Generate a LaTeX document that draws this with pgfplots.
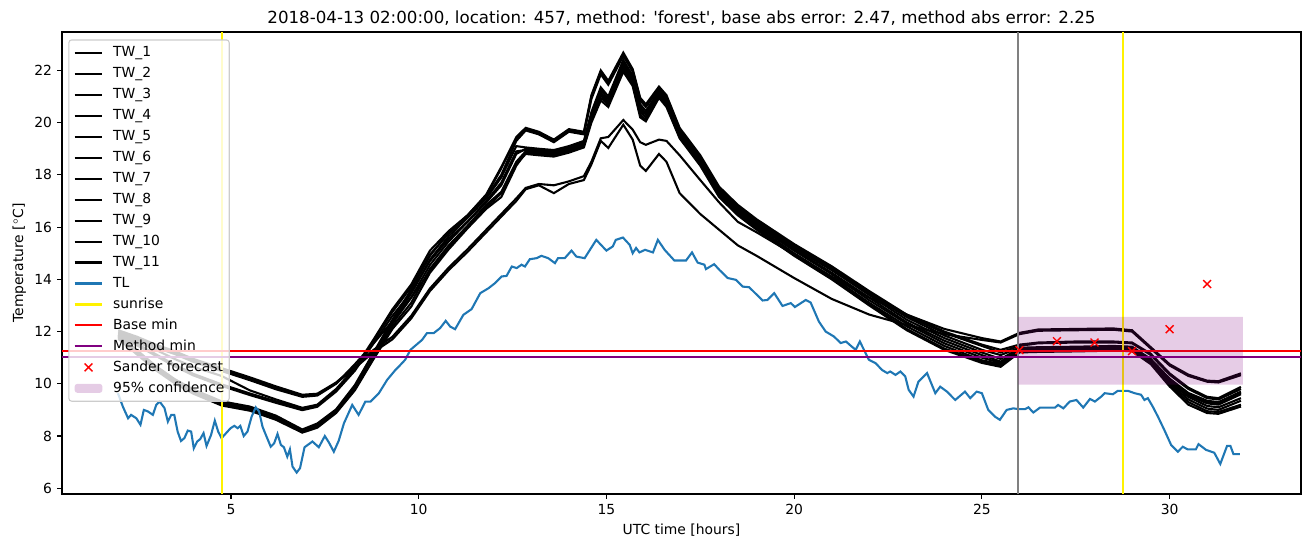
\documentclass[border=0pt]{standalone}
\usepackage{pgfplots}
\pgfplotsset{compat=1.18}
\usepackage{pgfplotstable}
\usepackage{fontspec}
\setmainfont{DejaVu Sans}

\definecolor{tabblue}{HTML}{1F77B4}
\definecolor{mplpurple}{HTML}{800080}
\definecolor{mplgray}{HTML}{808080}
\definecolor{legframe}{HTML}{CCCCCC}

\pgfplotsset{
    boxlegend/.style={legend image code/.code={\fill[##1] (0pt,-3.25pt) rectangle (20pt,3.25pt);}},
}

% wall temperatures, one column per sensor
\pgfplotstableread{
x     P     Q     c1    c2    c3    c4    c5    c6    c7    c8    c9
2     12.05 12.0  11.95 11.88 11.93 11.84 11.8  11.87 11.76 11.72 11.94
2.5   11.8  11.75 11.6  11.28 11.53 11.24 11.2  11.47 11.16 11.12 11.69
3     11.5  11.45 11.3  10.68 11.13 10.64 10.6  11.07 10.56 10.52 11.39
3.5   11.25 11.2  10.95 10.18 10.73 10.14 10.1  10.67 10.06 10.02 11.14
4     10.95 10.9  10.65 9.78  10.38 9.74  9.7   10.32 9.66  9.62  10.84
4.75  10.6  10.55 10.3  9.33  9.98  9.29  9.25  9.92  9.21  9.17  10.49
5.5   10.25 10.2  9.75  9.13  9.63  9.09  9.05  9.57  9.01  8.97  10.14
6.2   9.9   9.85  9.4   8.78  9.33  8.74  8.7   9.27  8.66  8.62  9.79
6.9   9.58  9.55  9.08  8.25  9.05  8.21  8.17  8.99  8.15  8.13  9.5
7.3   9.62  9.58  9.2   8.48  9.18  8.44  8.4   9.12  8.36  8.32  9.55
7.8   10.05 10.02 9.8   9.02  9.75  8.98  8.95  9.7   8.92  8.88  10.0
8.3   10.65 10.6  10.6  9.95  10.55 9.9   9.85  10.5  9.8   9.75  10.75
8.8   11.3  11.22 11.7  11.2  11.65 11.15 11.05 11.55 11.0  10.95 11.55
9.3   11.8  11.7  12.85 12.45 12.75 12.4  12.3  12.6  12.2  12.1  12.4
9.8   12.6  12.5  13.8  13.6  13.7  13.45 13.3  13.5  13.1  12.95 13.3
10.3  13.65 13.55 15.1  14.9  14.95 14.75 14.55 14.7  14.4  14.25 14.3
10.8  14.45 14.35 15.85 15.8  15.75 15.65 15.45 15.55 15.3  15.15 15.25
11.3  15.15 15.05 16.45 16.45 16.4  16.35 16.2  16.2  16.05 15.95 16.0
11.8  15.9  15.8  17.25 17.2  17.15 17.1  16.95 17.0  16.85 16.7  16.75
12.2  16.5  16.4  18.3  18.25 18.0  17.9  17.6  17.7  17.35 17.15 17.3
12.6  17.1  17.0  19.45 19.4  19.3  19.1  18.8  18.9  18.5  18.35 18.4
12.85 17.5  17.45 19.8  19.75 19.7  19.05 19.0  18.95 18.9  18.85 18.8
13.2  17.65 17.6  19.65 19.6  19.55 19.0  18.95 18.9  18.85 18.8  18.75
13.6  17.6  17.3  19.35 19.3  19.25 18.95 18.9  18.85 18.8  18.75 18.7
14.0  17.75 17.65 19.75 19.7  19.65 19.1  19.05 19.0  18.95 18.9  18.85
14.4  17.95 17.8  19.65 19.6  19.55 19.3  19.25 19.2  19.15 19.1  19.05
14.6  18.5  18.4  21.05 21.0  20.9  20.4  20.3  20.25 20.2  20.1  20.0
14.85 19.4  19.3  22.0  21.95 21.85 21.35 21.25 21.15 21.05 20.95 20.85
15.05 19.45 19.03 21.6  21.55 21.45 21.0  20.9  20.8  20.75 20.7  20.6
15.45 20.1  19.92 22.68 22.62 22.55 22.4  22.3  22.2  22.1  22.0  21.95
15.7  19.73 19.35 22.05 22.0  21.95 21.8  21.7  21.6  21.5  21.45 21.4
15.9  19.25 18.35 20.95 20.9  20.85 20.7  20.6  20.5  20.4  20.3  20.2
16.05 19.15 18.15 20.7  20.65 20.6  20.45 20.35 20.3  20.2  20.1  20.05
16.4  19.35 18.8  21.38 21.33 21.28 21.2  21.15 21.1  21.05 21.0  20.95
16.6  19.3  18.5  21.05 21.0  20.95 20.85 20.8  20.75 20.7  20.65 20.6
16.95 18.75 17.3  19.8  19.75 19.7  19.65 19.6  19.55 19.5  19.45 19.4
17.5  17.8  16.5  18.75 18.7  18.65 18.6  18.55 18.5  18.45 18.4  18.35
18.0  16.95 15.9  17.55 17.5  17.45 17.4  17.35 17.3  17.25 17.2  17.15
18.5  16.2  15.3  16.85 16.8  16.75 16.7  16.65 16.6  16.55 16.5  16.45
19.0  15.8  14.9  16.3  16.25 16.2  16.15 16.1  16.05 16.0  15.95 15.9
20.0  14.95 14.05 15.35 15.3  15.25 15.2  15.15 15.1  15.0  14.95 14.9
21.0  14.1  13.25 14.5  14.45 14.4  14.35 14.25 14.2  14.1  14.05 14.0
22.0  13.3  12.65 13.55 13.5  13.45 13.4  13.3  13.2  13.1  13.05 13.0
23.0  12.65 12.25 12.65 12.6  12.55 12.45 12.35 12.3  12.2  12.1  12.05
24.0  12.1  11.9  12.0  11.95 11.85 11.75 11.65 11.55 11.45 11.35 11.3
25.0  11.75 11.68 11.5  11.45 11.3  11.2  11.1  11.0  10.9  10.85 10.8
25.5  11.62 11.58 11.3  11.2  11.1  10.95 10.85 10.8  10.75 10.7  10.65
26.0  11.95 11.9  11.5  11.45 11.38 11.35 11.3  11.28 11.25 11.22 11.2
26.5  12.08 12.03 11.58 11.55 11.4  11.38 11.33 11.3  11.28 11.25 11.22
27.5  12.1  12.05 11.62 11.58 11.42 11.38 11.35 11.32 11.3  11.27 11.24
28.5  12.12 12.07 11.62 11.58 11.45 11.42 11.38 11.35 11.32 11.3  11.27
29.0  12.05 12.0  11.58 11.55 11.42 11.4  11.36 11.33 11.3  11.28 11.25
29.5  11.4  11.35 11.15 11.1  10.95 10.9  10.88 10.85 10.82 10.8  10.75
30.0  10.75 10.7  10.4  10.35 10.2  10.15 10.1  10.05 10.0  9.95  9.9
30.5  10.35 10.3  9.85  9.8   9.65  9.6   9.55  9.5   9.4   9.3   9.2
31.0  10.12 10.08 9.5   9.45  9.35  9.3   9.25  9.15  9.05  8.95  8.88
31.3  10.1  10.05 9.45  9.4   9.3   9.25  9.2   9.1   9.0   8.92  8.85
31.9  10.4  10.33 9.88  9.8   9.7   9.65  9.6   9.45  9.35  9.2   9.13
}\twtable

% air temperature
\pgfplotstableread{
x y
1.99 9.64
2.12 9.13
2.26 8.68
2.34 8.81
2.48 8.68
2.59 8.43
2.68 9.0
2.79 8.94
2.92 8.81
3.01 9.19
3.10 9.32
3.23 9.07
3.32 8.55
3.41 8.81
3.49 8.81
3.58 8.17
3.67 7.81
3.76 7.92
3.85 8.21
3.94 8.17
4.01 7.53
4.10 7.79
4.18 7.88
4.27 8.11
4.35 7.62
4.47 8.04
4.57 8.59
4.66 8.17
4.75 7.92
4.87 8.11
4.99 8.30
5.09 8.39
5.18 8.30
5.25 8.39
5.34 8.0
5.44 8.17
5.55 8.74
5.66 9.10
5.75 8.94
5.84 8.36
5.93 8.04
6.06 7.59
6.15 7.72
6.24 8.08
6.33 7.66
6.41 7.57
6.50 7.21
6.57 7.49
6.64 6.83
6.75 6.60
6.84 6.77
6.96 7.57
7.17 7.79
7.34 7.57
7.50 8.0
7.61 7.75
7.74 7.40
7.87 7.82
8.01 8.49
8.23 9.19
8.40 8.81
8.58 9.32
8.72 9.32
8.94 9.64
9.16 10.15
9.38 10.53
9.51 10.72
9.64 10.92
9.78 11.30
10.09 11.68
10.22 11.94
10.40 11.94
10.57 12.13
10.72 12.41
10.84 12.19
10.97 12.09
11.19 12.64
11.41 12.86
11.64 13.47
11.86 13.66
12.03 13.85
12.21 14.11
12.34 14.13
12.48 14.49
12.61 14.43
12.74 14.56
12.83 14.49
12.96 14.77
13.14 14.81
13.27 14.90
13.45 14.81
13.63 14.62
13.71 14.81
13.89 14.81
14.07 15.10
14.20 14.87
14.42 14.81
14.73 15.51
15.0 15.10
15.17 15.26
15.25 15.51
15.44 15.60
15.62 15.32
15.70 15.0
15.79 15.20
15.88 15.03
16.03 15.13
16.24 15.03
16.37 15.51
16.55 15.13
16.81 14.72
17.12 14.72
17.28 15.03
17.43 14.64
17.61 14.56
17.65 14.39
17.87 14.58
18.01 14.36
18.23 14.05
18.45 13.98
18.63 13.72
18.80 13.70
19.16 13.19
19.29 13.21
19.47 13.47
19.69 12.98
19.91 13.09
20.02 12.94
20.31 13.21
20.44 13.11
20.66 12.38
20.84 12.0
21.06 11.81
21.24 11.56
21.38 11.62
21.53 11.43
21.64 11.30
21.75 11.62
21.86 11.30
21.99 10.92
22.17 10.79
22.34 10.53
22.48 10.41
22.56 10.47
22.70 10.34
22.83 10.47
22.96 10.28
23.05 9.77
23.18 9.51
23.31 10.08
23.54 10.41
23.76 9.64
23.89 9.89
24.07 9.70
24.29 9.38
24.55 9.70
24.69 9.45
24.86 9.70
25.0 9.64
25.17 9.0
25.35 8.74
25.48 8.62
25.66 9.0
25.84 9.06
25.97 9.03
26.15 9.03
26.24 9.10
26.37 8.90
26.55 9.09
26.95 9.09
27.03 9.19
27.17 9.06
27.34 9.32
27.52 9.38
27.70 9.09
27.88 9.42
28.01 9.32
28.18 9.51
28.27 9.64
28.49 9.60
28.62 9.73
28.89 9.73
29.07 9.64
29.24 9.58
29.33 9.38
29.42 9.45
29.55 9.13
29.69 8.74
29.86 8.23
30.04 7.66
30.22 7.40
30.35 7.59
30.48 7.49
30.70 7.49
30.77 7.69
30.97 7.47
31.19 7.36
31.35 6.93
31.53 7.62
31.62 7.62
31.70 7.31
31.87 7.31
}\tltable

\begin{document}
\begin{tikzpicture}
\begin{axis}[
    width=892.08pt, height=332.64pt, scale only axis,
    xmin=0.5, xmax=33.5, ymin=5.78, ymax=23.47,
    xtick={5,10,...,30}, ytick={6,8,...,22},
    tick align=outside, xtick pos=bottom, ytick pos=left,
    major tick length=3.5pt,
    major tick style={black, line width=0.8pt},
    axis line style={line width=0.8pt},
    /pgf/number format/assume math mode=true,
    ticklabel style={font=\fontsize{10}{12}\selectfont},
    xticklabel style={anchor=north, inner sep=0pt, yshift=-3.5pt},
    yticklabel style={anchor=east, inner sep=0pt, xshift=-3.5pt},
    title={2018-04-13 02:00:00, location: 457, method: \textquotesingle forest\textquotesingle, base abs error: 2.47, method abs error: 2.25},
    title style={font=\fontsize{12}{14}\selectfont, at={(0.5,1)}, anchor=base, inner sep=0pt},
    xlabel={UTC time [hours]},
    xlabel style={font=\fontsize{10}{12}\selectfont, at={(0.5,-0.0866)}, anchor=base, inner sep=0pt},
    ylabel={Temperature [$^\circ$C]},
    ylabel style={font=\fontsize{10}{12}\selectfont, at={(-0.0314,0.5)}, anchor=base, inner sep=0pt},
    legend cell align=left,
    legend image code/.code={\draw[mark repeat=2,mark phase=2,#1] plot coordinates {(0pt,0pt) (10pt,0pt) (20pt,0pt)};},
    legend style={at={(0.0051,0.984)}, anchor=north west, draw=legframe, line width=0.8pt,
        rounded corners=2pt, fill=white, fill opacity=0.8, draw opacity=1, text opacity=1,
        font=\fontsize{10}{12}\selectfont, inner xsep=3.4pt, inner ysep=4.5pt,
        row sep=5.6pt, column sep=7pt,
        nodes={inner sep=0pt, text height=7.5pt, text depth=2pt}},
]
\addplot[black, line width=1.5pt] table[x=x, y=c1] {\twtable};
\addplot[black, line width=1.5pt] table[x=x, y=c2] {\twtable};
\addplot[black, line width=1.5pt] table[x=x, y=c3] {\twtable};
\addplot[black, line width=1.5pt] table[x=x, y=c4] {\twtable};
\addplot[black, line width=1.5pt] table[x=x, y=c5] {\twtable};
\addplot[black, line width=1.5pt] table[x=x, y=c6] {\twtable};
\addplot[black, line width=1.5pt] table[x=x, y=c7] {\twtable};
\addplot[black, line width=1.5pt] table[x=x, y=c8] {\twtable};
\addplot[black, line width=1.5pt] table[x=x, y=c9] {\twtable};
\addplot[black, line width=1.5pt] table[x=x, y=P] {\twtable};
\addplot[black, line width=1.5pt] table[x=x, y=Q] {\twtable};
\addplot[tabblue, line width=1.5pt] table[x=x, y=y] {\tltable};
\addplot[yellow, line width=1.5pt] coordinates {(4.75,5.78) (4.75,23.47)};
\addplot[yellow, line width=1.5pt, forget plot] coordinates {(28.75,5.78) (28.75,23.47)};
\addplot[mplgray, line width=1.5pt, forget plot] coordinates {(25.97,5.78) (25.97,23.47)};
\addplot[red, line width=1.5pt] coordinates {(0.5,11.26) (33.5,11.26)};
\addplot[mplpurple, line width=1.5pt] coordinates {(0.5,11.04) (33.5,11.04)};
\addplot[red, only marks, mark=x, mark size=4pt, mark options={line width=1pt}]
    coordinates {(26,11.29) (27,11.63) (28,11.58) (29,11.25) (30,12.09) (31,13.82)};
\addplot[fill=mplpurple, fill opacity=0.2, draw=none, boxlegend]
    coordinates {(25.97,9.97) (31.95,9.97) (31.95,12.56) (25.97,12.56) (25.97,9.97)};
\legend{TW\_1, TW\_2, TW\_3, TW\_4, TW\_5, TW\_6, TW\_7, TW\_8, TW\_9, TW\_10, TW\_11,
    TL, sunrise, Base min, Method min, Sander forecast, 95\% confidence}
\end{axis}
\path (current axis.south west) ++(-44.64pt,-38.16pt) rectangle ([shift={(7.2pt,23.04pt)}]current axis.north east);
\end{tikzpicture}
\end{document}
